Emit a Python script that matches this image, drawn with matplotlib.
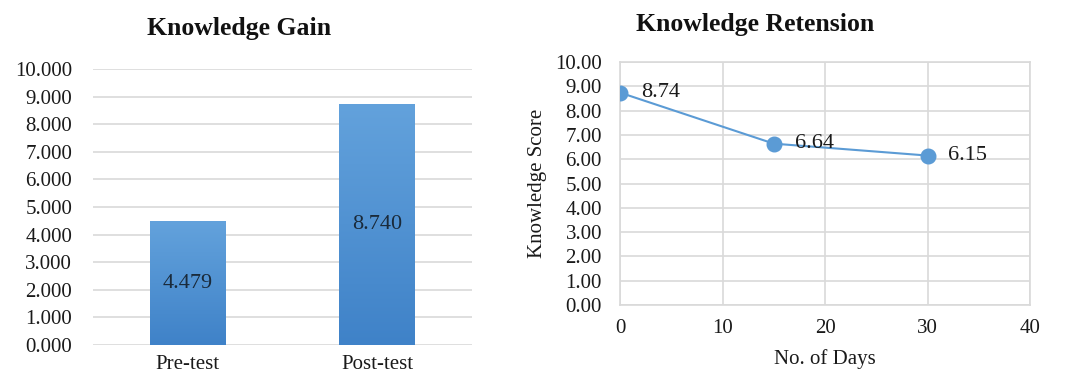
import matplotlib
matplotlib.use("Agg")
import matplotlib.pyplot as plt
import numpy as np

plt.rcParams['font.family'] = ['Liberation Serif', 'DejaVu Serif']

# ---- data ----
gain_categories = ["Pre-test", "Post-test"]
gain_values = [4.479, 8.740]
gain_labels = ["4.479", "8.740"]

days = [0, 15, 30]
retention_scores = [8.74, 6.64, 6.15]
retention_labels = ["8.74", "6.64", "6.15"]

fig = plt.figure(figsize=(10.77, 3.76), dpi=100)

grid_c = "#D9D9D9"
txt_c = "#1a1a1a"
tick_fs = 15

# ---- left: bar chart ----
ax1 = fig.add_axes([0.0864, 0.0824, 0.352, 0.734])
x = np.arange(len(gain_categories))
bars = ax1.bar(x, gain_values, width=0.4, color="#4A8ED3", zorder=3)
grad = np.linspace(0, 1, 256).reshape(-1, 1)
cmap = matplotlib.colors.LinearSegmentedColormap.from_list("g", ["#3F82C8", "#63A2DC"])
for b in bars:
    im = ax1.imshow(grad, extent=[b.get_x(), b.get_x() + b.get_width(), 0, b.get_height()],
                    origin="lower", cmap=cmap, aspect="auto", zorder=4)
    im.set_clip_path(b)
ax1.set_xlim(-0.5, 1.5)
ax1.set_ylim(0, 10)
ax1.set_yticks(np.arange(0, 11, 1))
ax1.set_yticklabels([f"{v:.3f}" for v in np.arange(0, 11, 1)])
ax1.set_xticks(x)
ax1.set_xticklabels(gain_categories)
ax1.grid(axis="y", color=grid_c, linewidth=1.2, zorder=0)
for s in ax1.spines.values():
    s.set_visible(False)
ax1.tick_params(axis="both", length=0, labelsize=tick_fs, colors=txt_c)
ax1.tick_params(axis="y", pad=15)
ax1.tick_params(axis="x", pad=7)
for b, lab in zip(bars, gain_labels):
    ax1.text(b.get_x() + b.get_width() / 2, b.get_height() / 2, lab,
             ha="center", va="center", fontsize=16, color="#1a2a3a", zorder=5)
fig.text(0.222, 0.925, "Knowledge Gain", ha="center", va="center",
         fontsize=18.5, fontweight="bold", color="#111")

# ---- right: line chart ----
ax2 = fig.add_axes([0.5757, 0.1888, 0.3807, 0.6463])
ax2.plot(days, retention_scores, color="#5B9BD5", linewidth=1.5, marker="o",
         markersize=10.5, markerfacecolor="#5B9BD5", markeredgecolor="#5B9BD5", zorder=3)
for d, v, lab in zip(days, retention_scores, retention_labels):
    ax2.annotate(lab, (d, v), xytext=(15, 0), textcoords="offset points",
                 ha="left", va="center", fontsize=16, color=txt_c, zorder=4)
ax2.set_xlim(0, 40)
ax2.set_ylim(0, 10)
ax2.set_xticks(np.arange(0, 41, 10))
ax2.set_yticks(np.arange(0, 11, 1))
ax2.set_yticklabels([f"{v:.2f}" for v in np.arange(0, 11, 1)])
ax2.grid(True, color=grid_c, linewidth=1.2, zorder=0)
for s in ax2.spines.values():
    s.set_color(grid_c)
    s.set_linewidth(1.2)
ax2.tick_params(axis="both", length=0, labelsize=tick_fs, colors=txt_c)
ax2.tick_params(axis="y", pad=13)
ax2.tick_params(axis="x", pad=10)
ax2.set_xlabel("No. of Days", fontsize=tick_fs, color=txt_c, labelpad=8)
ax2.set_ylabel("Knowledge Score", fontsize=tick_fs, color=txt_c, labelpad=6)
fig.text(0.701, 0.935, "Knowledge Retension", ha="center", va="center",
         fontsize=18.5, fontweight="bold", color="#111")

fig.savefig("out.png", dpi=100)
